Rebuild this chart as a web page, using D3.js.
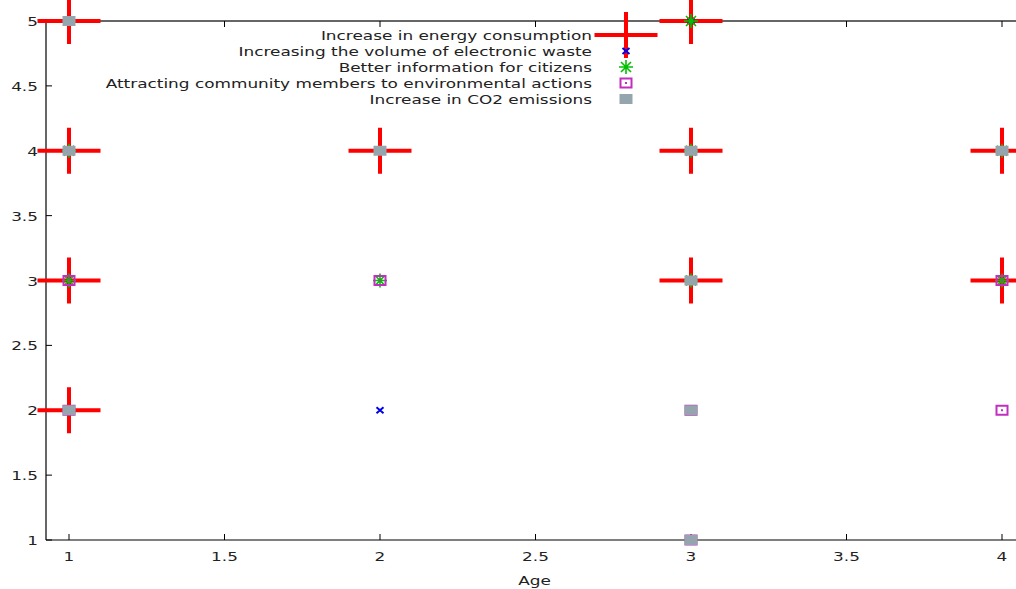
<!DOCTYPE html>
<html>
<head>
<meta charset="utf-8">
<script src="https://cdn.jsdelivr.net/npm/d3@7"></script>
<style>
  body { margin: 0; background: #fff; }
  text { font-family: "DejaVu Sans", sans-serif; font-size: 13px; fill: #222; }
</style>
</head>
<body>
<script>
// series names, in plotting order
const seriesNames = [
  "Increase in energy consumption",
  "Increasing the volume of electronic waste",
  "Better information for citizens",
  "Attracting community members to environmental actions",
  "Increase in CO2 emissions"
];

// [age, answer] pairs for each series
const energyPoints = [[1,5],[1,4],[1,3],[1,2],[2,4],[3,5],[3,4],[3,3],[4,4],[4,3]];
const wastePoints = [[2,2],[3,5]];
const infoPoints = [[1,4],[1,3],[2,3],[3,5],[3,4],[3,3],[4,4],[4,3]];
const attractPoints = [[1,3],[1,2],[2,3],[3,2],[3,1],[4,3],[4,2]];
const co2Points = [[1,5],[1,4],[1,2],[2,4],[3,4],[3,3],[3,2],[3,1],[4,4]];

const xTicks = [1, 1.5, 2, 2.5, 3, 3.5, 4];
const yTicks = [1, 1.5, 2, 2.5, 3, 3.5, 4, 4.5, 5];

const width = 1016, height = 589;
const stretch = 1.3; // the original output is widened horizontally

let x = d3.scaleLinear().domain([1, 4]).range([69, 1002]);
let y = d3.scaleLinear().domain([1, 5]).range([540, 21]);
let xLo = x.invert(46), xHi = x.invert(1025);

let svg = d3.select("body").append("svg")
    .attr("width", width)
    .attr("height", height);

function place(sel, px, py) {
  return sel.attr("transform", (d, i) => {
    let a = typeof px === "function" ? px(d, i) : px;
    let b = typeof py === "function" ? py(d, i) : py;
    return "translate(" + a + "," + b + ") scale(" + stretch + ",1)";
  });
}

// frame
let frame = svg.append("g");
frame.append("line")
  .attr("x1", x(xLo)).attr("x2", x(xHi))
  .attr("y1", y(5)).attr("y2", y(5))
  .attr("stroke", "#333").attr("stroke-width", 1.5);
frame.append("line")
  .attr("x1", x(xLo)).attr("x2", x(xHi))
  .attr("y1", y(1)).attr("y2", y(1))
  .attr("stroke", "#000").attr("stroke-width", 1.2);
frame.append("line")
  .attr("x1", x(xLo)).attr("x2", x(xLo))
  .attr("y1", y(1)).attr("y2", y(5))
  .attr("stroke", "#000").attr("stroke-width", 1.2);

// x ticks (bottom + mirrored top)
let xt = svg.append("g").selectAll("g").data(xTicks).enter().append("g");
xt.append("line")
  .attr("x1", d => x(d)).attr("x2", d => x(d))
  .attr("y1", y(1)).attr("y2", y(1) - 6)
  .attr("stroke", "#000");
xt.append("line")
  .attr("x1", d => x(d)).attr("x2", d => x(d))
  .attr("y1", y(5)).attr("y2", y(5) + 6)
  .attr("stroke", "#000");
place(xt.append("text"), d => x(d), y(1) + 21)
  .attr("text-anchor", "middle")
  .text(d => d3.format("")(d));

// y ticks
let yt = svg.append("g").selectAll("g").data(yTicks).enter().append("g");
yt.append("line")
  .attr("x1", x(xLo)).attr("x2", x(xLo) + 6)
  .attr("y1", d => y(d)).attr("y2", d => y(d))
  .attr("stroke", "#000");
place(yt.append("text"), 38, d => y(d) + 5)
  .attr("text-anchor", "end")
  .text(d => d3.format("")(d));

place(svg.append("text"), x(2.5) - 1, 585)
  .attr("text-anchor", "middle")
  .text("Age");

// point symbols
function drawSymbol(g, kind) {
  if (kind === 0) {
    g.append("path").attr("d", "M-31.5,0H31.5M0,-23V23")
      .attr("stroke", "#ff0000").attr("stroke-width", 4).attr("fill", "none");
  } else if (kind === 1) {
    g.append("path").attr("d", "M-3.5,-3L3.5,3M-3.5,3L3.5,-3")
      .attr("stroke", "#0000ee").attr("stroke-width", 2).attr("fill", "none");
  } else if (kind === 2) {
    g.append("path").attr("d", "M-7,0H7M0,-7V7M-5,-5L5,5M-5,5L5,-5")
      .attr("stroke", "#00c000").attr("stroke-width", 1.6).attr("fill", "none");
  } else if (kind === 3) {
    g.append("rect").attr("x", -5.5).attr("y", -4.5).attr("width", 11).attr("height", 9)
      .attr("stroke", "#c02fc0").attr("stroke-width", 2).attr("fill", "none");
    g.append("rect").attr("x", -1).attr("y", -1).attr("width", 2).attr("height", 2)
      .attr("fill", "#c02fc0");
  } else {
    g.append("rect").attr("x", -6.5).attr("y", -5).attr("width", 13).attr("height", 10)
      .attr("fill", "#94a5ad");
  }
}

let allSeries = [energyPoints, wastePoints, infoPoints, attractPoints, co2Points];

// legend
let legendY = [35, 51, 67, 83, 99];
let legend = svg.append("g");

allSeries.forEach(function(points, i) {
  place(legend.append("text"), 592, legendY[i] + 5)
    .attr("text-anchor", "end")
    .text(seriesNames[i]);
  let lg = legend.append("g").attr("transform", "translate(626," + legendY[i] + ")");
  drawSymbol(lg, i);

  svg.append("g").selectAll("g")
    .data(points)
    .enter().append("g")
    .attr("transform", d => "translate(" + x(d[0]) + "," + y(d[1]) + ")")
    .each(function() { drawSymbol(d3.select(this), i); });
});
</script>
</body>
</html>
